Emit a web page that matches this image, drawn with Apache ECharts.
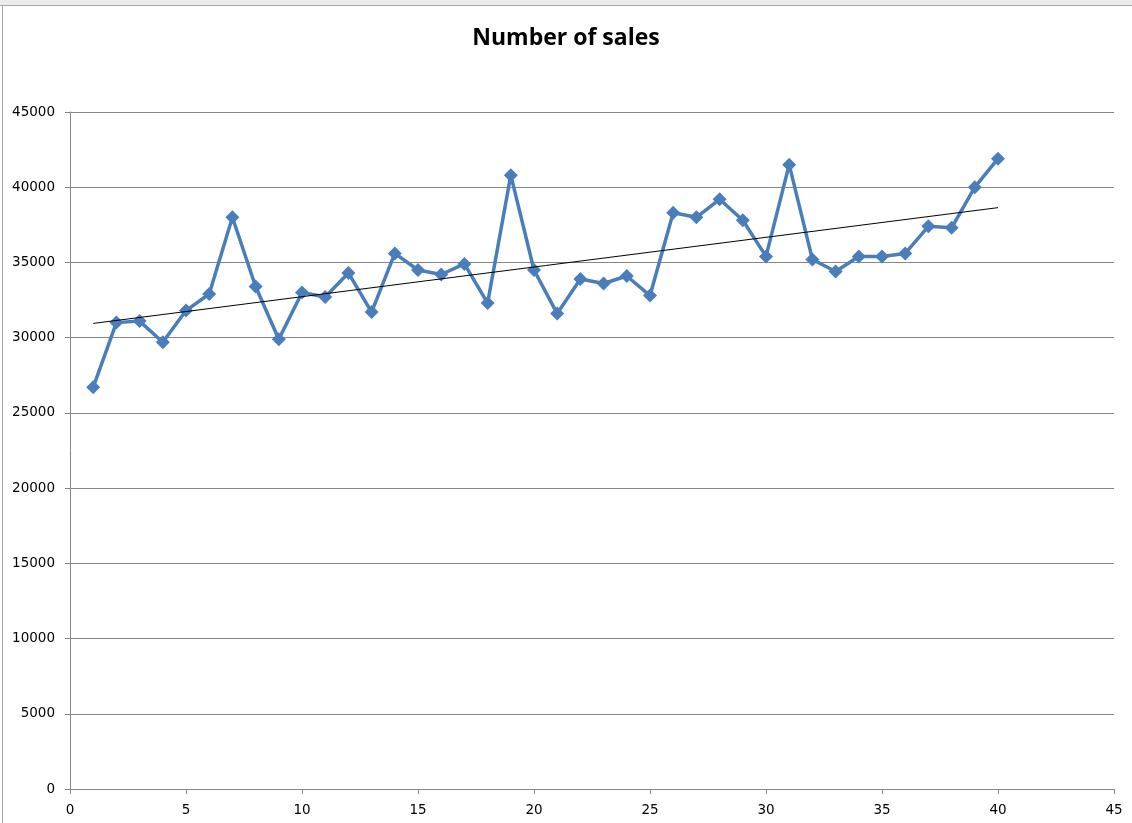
<!DOCTYPE html>
<html>
<head>
<meta charset="utf-8">
<script src="https://cdn.jsdelivr.net/npm/echarts@6/dist/echarts.min.js"></script>
<style>
html,body{margin:0;padding:0;background:#fff;}
#chart{width:1132px;height:823px;}
</style>
</head>
<body>
<div id="chart"></div>
<script>
const titleText = "Number of sales";
const xValues = [1,2,3,4,5,6,7,8,9,10,11,12,13,14,15,16,17,18,19,20,21,22,23,24,25,26,27,28,29,30,31,32,33,34,35,36,37,38,39,40];
const sales = [26700,31000,31100,29700,31800,32900,38000,33400,29900,33000,
               32700,34300,31700,35600,34500,34200,34900,32300,40800,34500,
               31600,33900,33600,34100,32800,38300,38000,39200,37800,35400,
               41500,35200,34400,35400,35400,35600,37400,37300,40000,41900];

// linear least-squares trend line derived from the data
const n = xValues.length;
let sx=0, sy=0, sxy=0, sxx=0;
for (let i=0;i<n;i++){ sx+=xValues[i]; sy+=sales[i]; sxy+=xValues[i]*sales[i]; sxx+=xValues[i]*xValues[i]; }
const slope = (n*sxy - sx*sy)/(n*sxx - sx*sx);
const intercept = (sy - slope*sx)/n;
const trend = [[xValues[0], intercept + slope*xValues[0]], [xValues[n-1], intercept + slope*xValues[n-1]]];

const chart = echarts.init(document.getElementById('chart'), null, {renderer:'canvas'});
const font = "'DejaVu Sans', 'Open Sans', sans-serif";
chart.setOption({
  animation:false,
  backgroundColor:'#ffffff',
  title:{
    text:titleText, left:'center', top:22,
    textStyle:{fontFamily:"'Open Sans', 'Lato', sans-serif", fontWeight:'bold', fontSize:23, color:'#000'}
  },
  graphic:[
    {type:'rect', shape:{x:0,y:0,width:1132,height:5}, style:{fill:'#ececec'}, silent:true},
    {type:'line', shape:{x1:0,y1:5.5,x2:1132,y2:5.5}, style:{stroke:'#a8a8a8', lineWidth:1}, silent:true},
    {type:'line', shape:{x1:2.5,y1:5,x2:2.5,y2:823}, style:{stroke:'#a8a8a8', lineWidth:1}, silent:true}
  ],
  grid:{left:70, right:18, top:112, bottom:34, containLabel:false},
  xAxis:{
    type:'value', min:0, max:45, interval:5,
    axisLine:{show:true, lineStyle:{color:'#868686', width:1}},
    axisTick:{show:true, length:5, lineStyle:{color:'#868686'}},
    axisLabel:{fontFamily:font, fontSize:13.5, color:'#000', margin:14},
    splitLine:{show:false}
  },
  yAxis:{
    type:'value', min:0, max:45000, interval:5000,
    axisLine:{show:true, lineStyle:{color:'#868686', width:1}},
    axisTick:{show:true, length:5, lineStyle:{color:'#868686'}},
    axisLabel:{fontFamily:font, fontSize:13.5, color:'#000', margin:15, formatter:(v)=>String(v)},
    splitLine:{show:true, lineStyle:{color:'#868686', width:1}}
  },
  series:[
    {
      type:'line', name:'Sales',
      data: xValues.map((x,i)=>[x, sales[i]]),
      symbol:'diamond', symbolSize:14, showSymbol:true,
      lineStyle:{color:'#4a7ebb', width:3.5},
      itemStyle:{color:'#4a7ebb'},
      z:3
    },
    {
      type:'line', name:'Trend',
      data: trend, symbol:'none',
      lineStyle:{color:'#000', width:1},
      z:4
    }
  ]
});
</script>
</body>
</html>
